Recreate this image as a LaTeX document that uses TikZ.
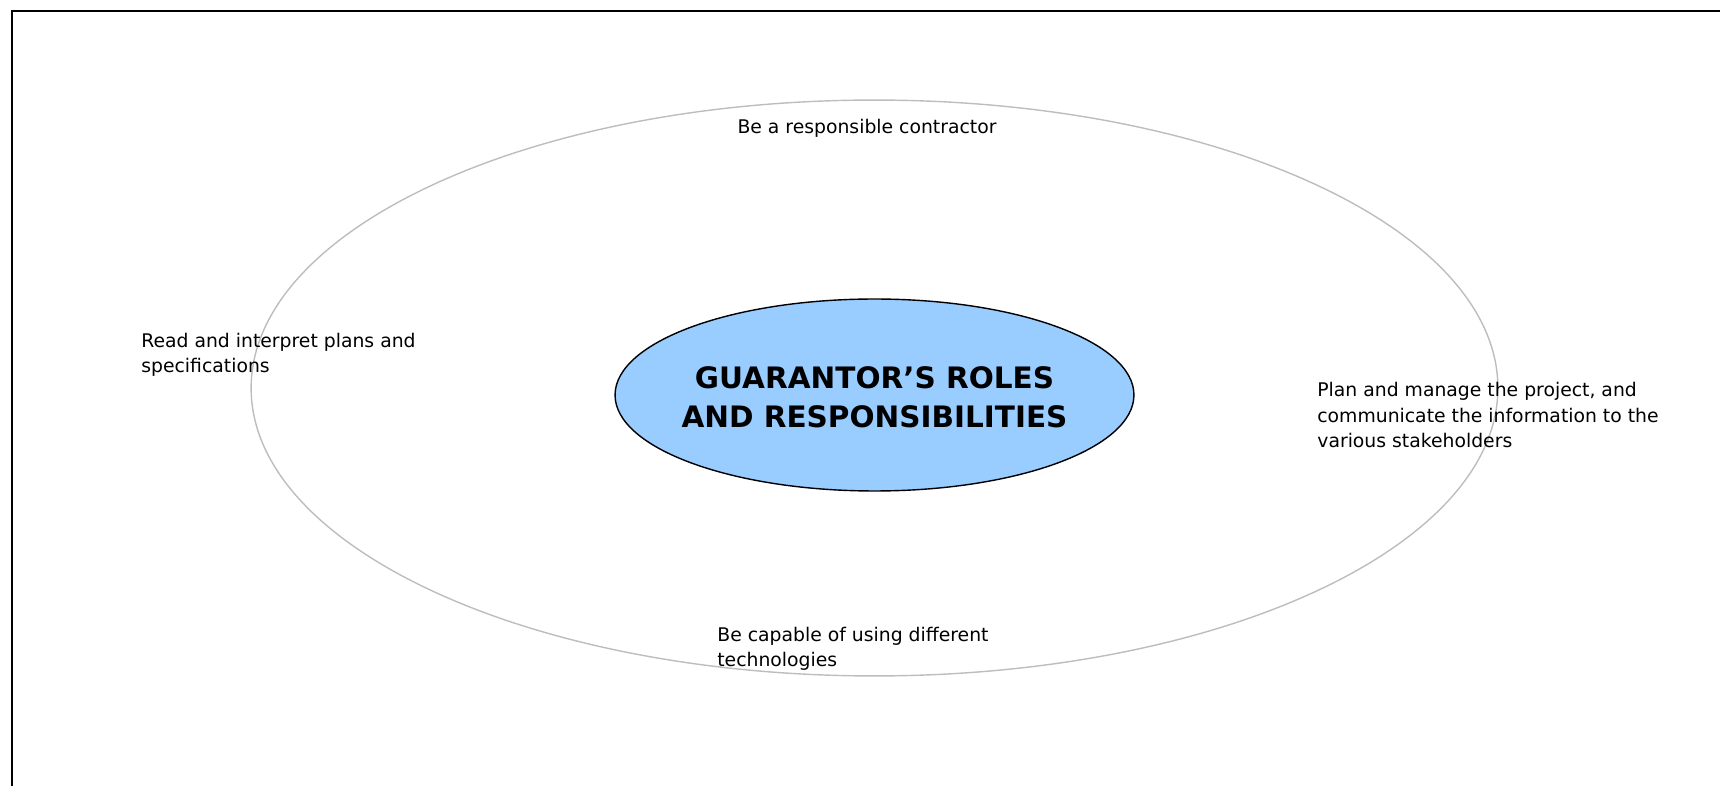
\documentclass[tikz,border=0pt]{standalone}
\usepackage{fontspec}
\setmainfont{DejaVu Sans}
\usepackage{tikz}
\usetikzlibrary{shapes.geometric}
\usetikzlibrary{positioning}
\usepackage{xcolor}
\definecolor{corefill}{HTML}{99CCFF}
\definecolor{ringgray}{HTML}{BDBDBD}

\begin{document}
\begin{tikzpicture}[x=0.02cm, y=-0.02cm,
    role/.style={align=left, inner sep=0pt, font=\fontsize{10.7}{14.5}\selectfont},
    ring/.style={draw=ringgray, line width=0.8pt, ellipse, inner sep=0pt},
    core/.style={draw, fill=corefill, line width=0.8pt, ellipse, inner sep=0pt},
    title/.style={align=center, inner sep=0pt, font=\fontsize{16.8}{22}\selectfont\bfseries}]
            \useasboundingbox (0,0) rectangle (1720,786);
            % page frame, cut off at right and bottom
            \draw[line width=1.1pt] (1720,11) -- (12,11) -- (12,786);
            % outer ring and centre
            \node[ring, minimum width=24.94cm, minimum height=11.52cm] (ring) at (874.5,388) {};
            \node[core, minimum width=10.38cm, minimum height=3.84cm] (core) at (874.5,395) {};
            \node[title] (heading) at ([yshift=-0.04cm]core.center) {GUARANTOR’S ROLES\\AND RESPONSIBILITIES};
            % roles round the ring
            \node[role] (contractor) at (867,128) {Be a responsible contractor};
            \node[role, anchor=west] (plans) at (141,355) {Read and interpret plans and\\specifications};
            \node[role, anchor=west] (manage) at (1317,415) {Plan and manage the project, and\\communicate the information to the\\various stakeholders};
            \node[role, anchor=west] (tech) at (717,649) {Be capable of using different\\technologies};
        \end{tikzpicture}
\end{document}
